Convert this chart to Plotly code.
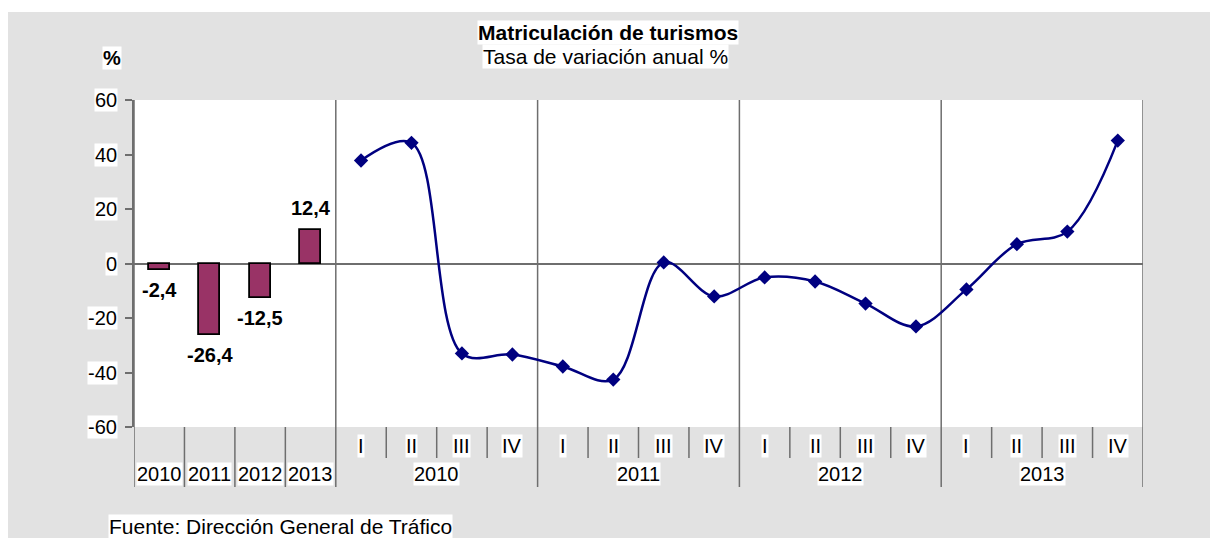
import plotly.graph_objects as go

# ---- data ----
annual_years = ["2010", "2011", "2012", "2013"]
annual_values = [-2.4, -26.4, -12.5, 12.4]
quarter_names = ["I", "II", "III", "IV"]
quarter_years = ["2010", "2011", "2012", "2013"]
quarter_values = [37.8, 44.3, -33.0, -33.4,
                  -37.8, -42.6, 0.4, -12.1,
                  -5.1, -6.6, -14.7, -23.1,
                  -9.5, 7.1, 11.7, 45.1]
y_ticks = [-60, -40, -20, 0, 20, 40, 60]

title = "Matriculación de turismos"
subtitle = "Tasa de variación anual %"
source = "Fuente: Dirección General de Tráfico"

# ---- geometry helpers (page pixels -> paper); page has an 8px body margin ----
OFF = 8
W, H = 1218 - OFF, 538 - OFF
L, R, T, B = 134, 1143, 100, 427          # plot area in page pixels
pw, ph = R - L, B - T
def px(x):
    return (x - L) / pw
def py(y):
    return (B - y) / ph

FONT = "Liberation Sans, Arial, sans-serif"
FS = 20
GRID = "#6e6e6e"

n_a = len(annual_values)
xa = list(range(n_a))
xq = [n_a + i for i in range(len(quarter_values))]
n_total = n_a + len(quarter_values)

fig = go.Figure()
fig.add_trace(go.Bar(
    x=xa, y=annual_values, width=0.42,
    marker=dict(color="#993366", line=dict(color="black", width=1.8)),
    showlegend=False, hoverinfo="y"))
fig.add_trace(go.Scatter(
    x=xq, y=quarter_values, mode="lines+markers",
    line=dict(color="#000080", width=2.5, shape="spline", smoothing=1.0),
    marker=dict(symbol="diamond", size=11, color="#000080"),
    showlegend=False))

shapes = []
# grey frame and white plot area
shapes.append(dict(type="rect", xref="paper", yref="paper", x0=px(OFF), x1=px(1218 + 5),
                   y0=py(538 + 5), y1=py(12), fillcolor="#e2e2e2", line=dict(width=0), layer="below"))
shapes.append(dict(type="rect", xref="paper", yref="paper", x0=0, x1=1, y0=0, y1=1,
                   fillcolor="white", line=dict(width=0), layer="below"))
y_major_bottom = py(487)
y_minor_bottom = py(458)
# major separators (group boundaries and plot edges)
major_x = [-0.5] + [n_a - 0.5 + 4 * k for k in range(1, len(quarter_years) + 1)] + [n_a - 0.5]
for xv in major_x:
    shapes.append(dict(type="line", xref="x", yref="paper", x0=xv, x1=xv, y0=y_major_bottom, y1=1,
                       line=dict(color=GRID, width=1.5), layer="below"))
# separators between annual bars
for i in range(1, n_a):
    xv = i - 0.5
    shapes.append(dict(type="line", xref="x", yref="paper", x0=xv, x1=xv, y0=y_major_bottom, y1=0,
                       line=dict(color=GRID, width=1.5), layer="below"))
# separators between quarters
for g in range(len(quarter_years)):
    for q in range(1, 4):
        xv = n_a + 4 * g + q - 0.5
        shapes.append(dict(type="line", xref="x", yref="paper", x0=xv, x1=xv, y0=y_minor_bottom, y1=0,
                           line=dict(color=GRID, width=1.5), layer="below"))

ann = []
def txt(text, x, y, xref="paper", yref="paper", size=FS, bold=False, xanchor="center",
        yanchor="middle", xshift=0, yshift=0):
    ann.append(dict(text=("<b>%s</b>" % text) if bold else text, x=x, y=y, xref=xref, yref=yref,
                    showarrow=False, xanchor=xanchor, yanchor=yanchor, xshift=xshift, yshift=yshift,
                    bgcolor="white", borderpad=0,
                    font=dict(family=FONT, size=size, color="black")))

# y tick labels
for t in y_ticks:
    txt(str(t), 0, t, yref="y", xanchor="right", xshift=-16)
# bar value labels
for x, v in zip(xa, annual_values):
    lab = ("%.1f" % v).replace(".", ",")
    if v < 0:
        txt(lab, x, v, xref="x", yref="y", bold=True, yanchor="top", yshift=-8)
    else:
        txt(lab, x, v, xref="x", yref="y", bold=True, yanchor="bottom", yshift=10)
# annual year labels
for x, yr in zip(xa, annual_years):
    txt(yr, x, py(474), xref="x")
# quarter labels and quarter-year labels
for g, yr in enumerate(quarter_years):
    for q, qn in enumerate(quarter_names):
        txt(qn, n_a + 4 * g + q, py(446), xref="x")
    txt(yr, n_a + 4 * g + 1.5, py(474), xref="x")

txt(title, px(608), py(33), bold=True, size=21)
txt(subtitle, px(605), py(57), size=21)
txt("%", px(112), py(58), bold=True)
txt(source, px(108), py(526), xanchor="left", size=21)

fig.update_layout(
    width=W, height=H,
    margin=dict(l=L - OFF, r=1218 - R, t=T - OFF, b=538 - B, pad=0),
    paper_bgcolor="white", plot_bgcolor="white",
    bargap=0,
    shapes=shapes, annotations=ann,
    xaxis=dict(range=[-0.5, n_total - 0.5], showticklabels=False, showgrid=False,
               zeroline=False, showline=False, ticks=""),
    yaxis=dict(range=[-60, 60], tickvals=y_ticks, showticklabels=False, showgrid=False,
               showline=True, linecolor=GRID, linewidth=1.5,
               ticks="outside", ticklen=7, tickwidth=1.5, tickcolor=GRID,
               zeroline=True, zerolinecolor=GRID, zerolinewidth=1.5),
    font=dict(family=FONT, size=FS, color="black"),
)

fig.write_html("out.html")
